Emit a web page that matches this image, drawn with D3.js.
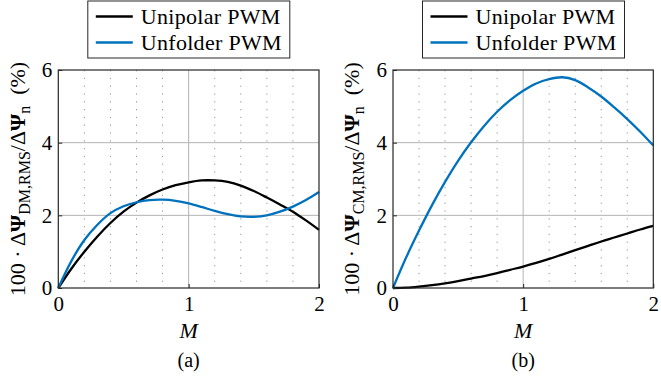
<!DOCTYPE html>
<html lang="en">
  <head>
    <meta charset="utf-8">
    <script src="https://cdnjs.cloudflare.com/ajax/libs/d3/7.8.5/d3.min.js"></script>
    <title>RMS flux ripple vs modulation index</title>
    <style>
      body { margin: 0; background: #fff; }
    </style>
  </head>
  <body>
    <script>

    // sample points of M
    var mVals = [0, 0.1, 0.2, 0.3, 0.4, 0.5, 0.6, 0.7, 0.8, 0.9, 1.0,
                 1.1, 1.2, 1.3, 1.4, 1.5, 1.6, 1.7, 1.8, 1.9, 2.0];

    // (a) differential mode
    var dmUnipolar = [0, 0.53, 1.0, 1.42, 1.79, 2.1, 2.35, 2.55, 2.71, 2.83, 2.91,
                      2.96, 2.96, 2.92, 2.82, 2.67, 2.49, 2.3, 2.1, 1.86, 1.6];
    var dmUnfolder = [0, 0.74, 1.32, 1.74, 2.06, 2.25, 2.36, 2.42, 2.43, 2.4, 2.33,
                      2.23, 2.12, 2.03, 1.97, 1.96, 2.0, 2.1, 2.24, 2.42, 2.64];

    // (b) common mode
    var cmUnipolar = [0, 0.01, 0.04, 0.08, 0.13, 0.19, 0.26, 0.33, 0.41, 0.5, 0.59,
                      0.69, 0.8, 0.92, 1.04, 1.16, 1.28, 1.39, 1.5, 1.61, 1.71];
    var cmUnfolder = [0, 0.83, 1.58, 2.28, 2.92, 3.5, 4.01, 4.46, 4.85, 5.17, 5.43,
                      5.63, 5.75, 5.8, 5.72, 5.52, 5.27, 4.97, 4.65, 4.3, 3.92];

    var xTicks = [0, 1, 2];
    var xMinor = [0.2, 0.4, 0.6, 0.8, 1.2, 1.4, 1.6, 1.8];
    var yTicks = [0, 2, 4, 6];
    var seriesNames = ["Unipolar PWM", "Unfolder PWM"];
    var seriesColors = ["#000000", "#0072BD"];

    var W = 661, H = 382;
    var plotTop = 70, plotBottom = 288;
    var serif = "Liberation Serif";

    var svg = d3.select("body")
      .append("svg")
        .attr("width", W)
        .attr("height", H)
        .attr("font-family", serif);

    function panel(x0, x1, series, sub, tag, labelX) {
      var x = d3.scaleLinear().domain([0, 2]).range([x0, x1]);
      var y = d3.scaleLinear().domain([0, 6]).range([plotBottom, plotTop]);
      var g = svg.append("g");

      // minor grid, dotted
      g.selectAll(".minor")
        .data(xMinor).enter().append("line")
          .attr("x1", function(d){ return x(d); })
          .attr("x2", function(d){ return x(d); })
          .attr("y1", plotTop).attr("y2", plotBottom)
          .attr("stroke", "#9a9a9a")
          .attr("stroke-width", 1)
          .attr("stroke-dasharray", "1.3,6.5");

      // major grid
      g.selectAll(".gx")
        .data(xTicks.slice(1, -1)).enter().append("line")
          .attr("x1", function(d){ return x(d); })
          .attr("x2", function(d){ return x(d); })
          .attr("y1", plotTop).attr("y2", plotBottom)
          .attr("stroke", "#b3b3b3");
      g.selectAll(".gy")
        .data(yTicks.slice(1, -1)).enter().append("line")
          .attr("y1", function(d){ return y(d); })
          .attr("y2", function(d){ return y(d); })
          .attr("x1", x0).attr("x2", x1)
          .attr("stroke", "#b3b3b3");

      // curves
      var line = d3.line()
        .x(function(d, i){ return x(mVals[i]); })
        .y(function(d){ return y(d); })
        .curve(d3.curveCatmullRom);

      series.forEach(function(s, i) {
        g.append("path")
          .attr("d", line(s))
          .attr("fill", "none")
          .attr("stroke", seriesColors[i])
          .attr("stroke-width", 2.3);
      });

      // axes + box
      var xAxis = d3.axisBottom(x).tickValues(xTicks).tickSize(-4).tickPadding(8).tickFormat(d3.format("d"));
      var yAxis = d3.axisLeft(y).tickValues(yTicks).tickSize(-4).tickPadding(6).tickFormat(d3.format("d"));

      var ax = g.append("g")
        .attr("transform", "translate(0," + plotBottom + ")")
        .call(xAxis);
      var ay = g.append("g")
        .attr("transform", "translate(" + x0 + ",0)")
        .call(yAxis);
      [ax, ay].forEach(function(a) {
        a.attr("font-family", serif).attr("font-size", 21);
        a.select(".domain").remove();
        a.selectAll("line").attr("stroke", "#262626");
        a.selectAll("text").attr("fill", "#000");
      });
      ay.selectAll("text").attr("dy", "0.33em");

      g.append("rect")
        .attr("x", x0).attr("y", plotTop)
        .attr("width", x1 - x0).attr("height", plotBottom - plotTop)
        .attr("fill", "none")
        .attr("stroke", "#262626")
        .attr("stroke-width", 1.2);

      // x label and panel tag
      g.append("text")
        .attr("x", (x0 + x1) / 2).attr("y", 338)
        .attr("text-anchor", "middle")
        .attr("font-size", 22)
        .attr("font-style", "italic")
        .text("M");
      g.append("text")
        .attr("x", (x0 + x1) / 2).attr("y", 367)
        .attr("text-anchor", "middle")
        .attr("font-size", 20)
        .text(tag);

      // y label
      var yl = g.append("text")
        .attr("transform", "translate(" + labelX + "," + ((plotTop + plotBottom) / 2) + ") rotate(-90)")
        .attr("text-anchor", "middle")
        .attr("font-size", 22);
      yl.append("tspan").text("100 · Δ");
      yl.append("tspan").attr("font-weight", "bold").text("Ψ");
      yl.append("tspan").attr("dy", 5).attr("font-size", 16).text(sub);
      yl.append("tspan").attr("dy", -5).text("/Δ");
      yl.append("tspan").attr("font-weight", "bold").text("Ψ");
      yl.append("tspan").attr("dy", 5).attr("font-size", 16).text("n");
      yl.append("tspan").attr("dy", -5).text("\u00a0\u00a0(%)");

      // legend
      var lx = x0 + 29.5, ly = 1;
      var lg = g.append("g");
      lg.append("rect")
        .attr("x", lx).attr("y", ly)
        .attr("width", 202).attr("height", 57)
        .attr("fill", "#fff")
        .attr("stroke", "#262626")
        .attr("stroke-width", 1);
      seriesNames.forEach(function(n, i) {
        var ry = ly + 15.5 + i * 26;
        lg.append("line")
          .attr("x1", lx + 8).attr("x2", lx + 45)
          .attr("y1", ry).attr("y2", ry)
          .attr("stroke", seriesColors[i])
          .attr("stroke-width", 2.3);
        lg.append("text")
          .attr("x", lx + 53).attr("y", ry + 7)
          .attr("font-size", 22)
          .attr("letter-spacing", 0.3)
          .text(n);
      });
    }

    panel(58.3, 319, [dmUnipolar, dmUnfolder], "DM,RMS", "(a)", 25);
    panel(393, 653.3, [cmUnipolar, cmUnfolder], "CM,RMS", "(b)", 359);

    </script>
  </body>
</html>
